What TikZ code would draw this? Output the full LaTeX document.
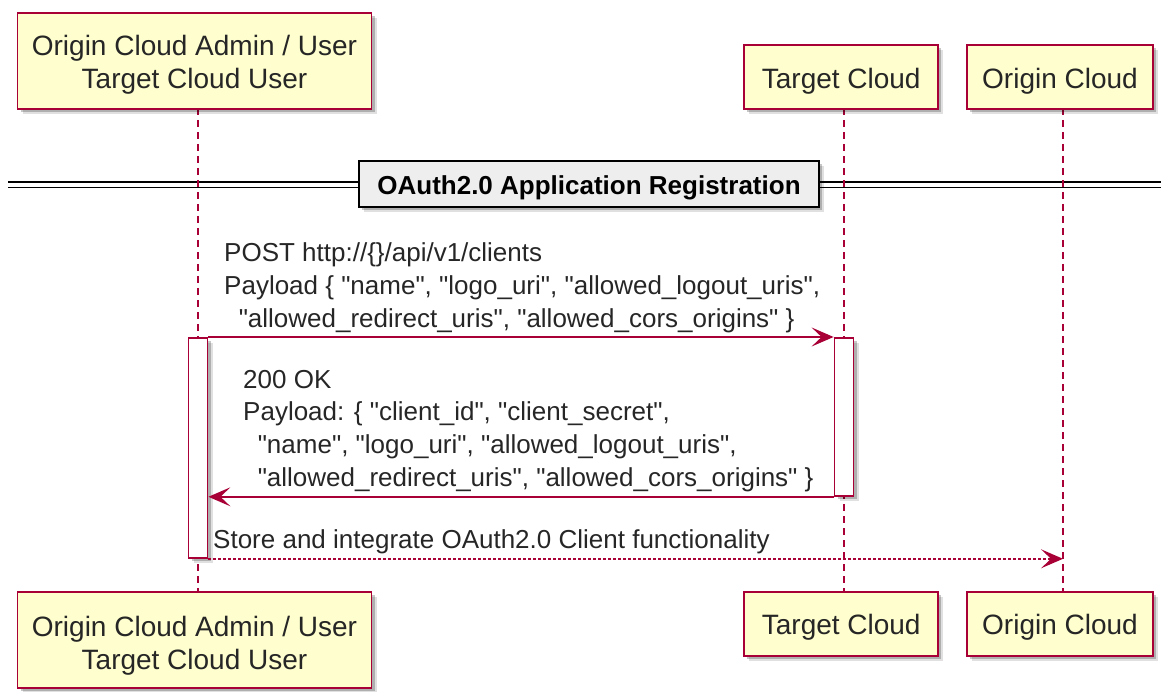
\documentclass[tikz,border=0pt]{standalone}
\usepackage{fontspec}
\setmainfont{Liberation Sans}[Ligatures=TeXOff]
\usetikzlibrary{arrows.meta,shadows}
\definecolor{pborder}{HTML}{A80036}
\definecolor{pfill}{HTML}{FEFECE}
\definecolor{divfill}{HTML}{EEEEEE}
\tikzset{
  softshadow/.style={
    general shadow={shadow xshift=5pt,shadow yshift=-5pt,fill=black,opacity=0.12},
    general shadow={shadow xshift=3pt,shadow yshift=-3pt,fill=black,opacity=0.22}},
  part/.style={draw=pborder, fill=pfill, line width=1.8pt, inner xsep=0pt, inner ysep=0pt,
    anchor=north, font=\fontsize{28}{33.5}\selectfont, text=black!85, softshadow},
  divbox/.style={draw=black, fill=divfill, line width=2.2pt, inner xsep=0pt, inner ysep=0pt,
    anchor=north, font=\fontsize{26}{31}\selectfont\bfseries, text=black, softshadow},
  actbar/.style={draw=pborder, fill=white, line width=1.8pt, minimum width=19pt,
    inner sep=0pt, anchor=north, softshadow},
  life/.style={draw=pborder, line width=1.3pt, dash pattern=on 7pt off 5pt},
  msg/.style={draw=pborder, line width=1.5pt, -{Stealth[length=22pt,width=19pt,inset=10pt]}},
  dotmsg/.style={msg, dash pattern=on 2.5pt off 2.5pt},
  lab/.style={font=\fontsize{26}{32.7}\selectfont, inner sep=0pt, anchor=base west, text=black!85},
  divline/.style={draw=black, line width=1.4pt}
}
\begin{document}
\begin{tikzpicture}[x=1pt,y=-1pt]
\useasboundingbox (0,0) rectangle (1161,692);

% lifeline end points
\coordinate (l1t) at (198,108);
\coordinate (l1b) at (198,591);
\coordinate (l2t) at (844,108);
\coordinate (l2b) at (844,591);
\coordinate (l3t) at (1063,108);
\coordinate (l3b) at (1063,591);

% divider double line
\coordinate (dl1) at (8,182);
\coordinate (dr1) at (1161,182);
\coordinate (dl2) at (8,187.5);
\coordinate (dr2) at (1161,187.5);
\draw[divline] (dl1) -- (dr1);
\draw[divline] (dl2) -- (dr2);

% lifelines
\draw[life] (l1t) -- (l1b);
\draw[life] (l2t) -- (l2b);
\draw[life] (l3t) -- (l3b);

% divider title
\node[divbox, minimum width=460pt, text height=33pt, text depth=13pt] (div) at (589,160)
  {OAuth2.0 Application Registration};

% participants (top)
\node[part, minimum width=354pt, text height=76pt, text depth=20pt] (p1top) at (194.5,12)
  {\begin{tabular}[b]{@{}c@{}}Origin Cloud Admin / User\\Target Cloud User\end{tabular}};
\node[part, minimum width=194pt, text height=44pt, text depth=20pt] (tctop) at (841.2,44)
  {Target Cloud};
\node[part, minimum width=186pt, text height=44pt, text depth=20pt] (octop) at (1060,44)
  {Origin Cloud};

% participants (bottom)
\node[part, minimum width=354pt, text height=78pt, text depth=18pt] (p1bot) at (194.5,591)
  {\begin{tabular}[b]{@{}c@{}}Origin Cloud Admin / User\\Target Cloud User\end{tabular}};
\node[part, minimum width=194pt, text height=43pt, text depth=21pt] (tcbot) at (841.2,591)
  {Target Cloud};
\node[part, minimum width=186pt, text height=43pt, text depth=21pt] (ocbot) at (1060,591)
  {Origin Cloud};

% activation bars
\node[actbar, minimum height=220pt] (act1) at (198,337) {};
\node[actbar, minimum height=158pt] (act2) at (844,337) {};

% messages
\draw[msg] (act1.north east) -- (act2.north west);
\draw[msg] (act2.south west) -- (act2.south west -| act1.east);
\draw[dotmsg] (act1.south east) -- (act1.south east -| l3t);

% labels
\node[lab] (m1) at (224,262) {\begin{tabular}[t]{@{}l@{}}POST http://\{\}/api/v1/clients\\
Payload \{ "name", "logo\_uri", "allowed\_logout\_uris",\\
\hspace*{0.56em}"allowed\_redirect\_uris", "allowed\_cors\_origins" \}\end{tabular}};
\node[lab] (m2) at (243,388) {\begin{tabular}[t]{@{}l@{}}200 OK\\
Payload: \{ "client\_id", "client\_secret",\\
\hspace*{0.56em}"name", "logo\_uri", "allowed\_logout\_uris",\\
\hspace*{0.56em}"allowed\_redirect\_uris", "allowed\_cors\_origins" \}\end{tabular}};
\node[lab] (m3) at (213,548) {Store and integrate OAuth2.0 Client functionality};
\end{tikzpicture}
\end{document}
